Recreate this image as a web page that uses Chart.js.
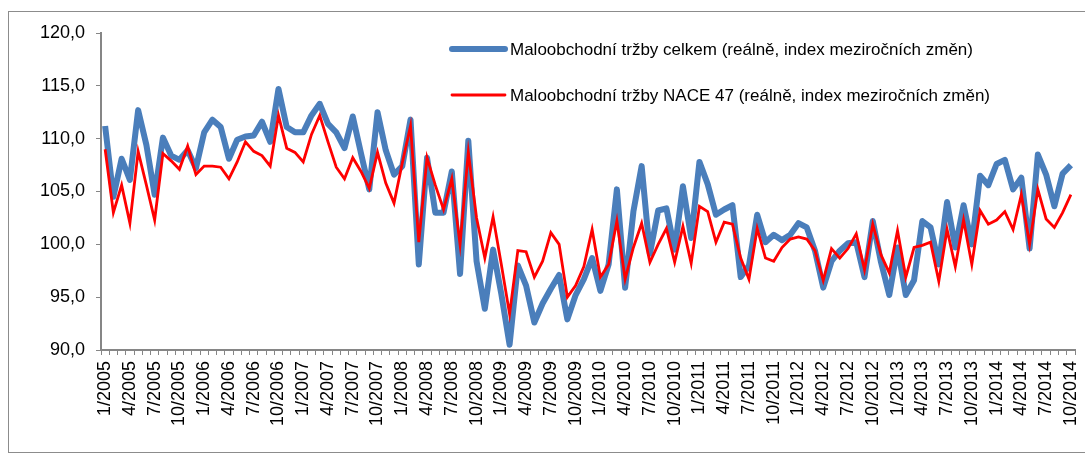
<!DOCTYPE html>
<html><head><meta charset="utf-8">
<script src="https://cdn.jsdelivr.net/npm/chart.js@4/dist/chart.umd.min.js"></script>
<style>html,body{margin:0;padding:0;background:#fff}#wrap{width:1085px;height:455px;position:relative}</style>
</head><body><div id="wrap"><canvas id="c" width="1085" height="455"></canvas></div>
<script>
const years = [2005, 2006, 2007, 2008, 2009, 2010, 2011, 2012, 2013, 2014];
const lastMonth = 10;
const categories = [];
years.forEach(y => { for (let m = 1; m <= 12; m++) { if (y === 2014 && m > lastMonth) break; categories.push(m + '/' + y); } });

const seriesCelkemLabel = 'Maloobchodní tržby celkem (reálně, index meziročních změn)';
const seriesNaceLabel = 'Maloobchodní tržby NACE 47 (reálně, index meziročních změn)';

const celkem = [
 111.2,104.5,108.1,106.1,112.7,109.4,104.7,110.1,108.4,108.0,108.9,107.2,
 110.6,111.8,111.1,108.1,109.9,110.2,110.3,111.6,109.7,114.7,111.1,110.6,
 110.6,112.2,113.3,111.4,110.6,109.1,112.1,108.6,105.2,112.5,108.9,106.6,
 107.4,111.8,98.1,108.2,103.0,103.0,106.9,97.2,109.8,98.4,93.9,99.5,
 95.3,90.5,98.0,96.1,92.6,94.4,95.8,97.1,92.9,95.2,96.7,98.7,
 95.6,98.1,105.2,95.9,103.1,107.4,99.1,103.2,103.4,99.5,105.5,100.6,
 107.8,105.7,102.8,103.3,103.7,96.9,98.0,102.8,100.2,100.9,100.4,100.9,
 102.0,101.6,99.4,95.9,98.4,99.4,100.1,100.2,96.9,102.2,98.3,95.2,
 99.7,95.2,96.6,102.2,101.6,98.1,104.0,99.7,103.7,100.0,106.5,105.6,
 107.6,108.0,105.2,106.3,99.6,108.5,106.6,103.6,106.7,107.5
];
const nace47 = [
 109.0,103.0,105.6,102.0,108.8,105.6,102.3,108.6,107.9,107.1,109.3,106.6,
 107.4,107.4,107.3,106.2,107.8,109.7,108.8,108.4,107.4,112.2,109.1,108.7,
 107.8,110.4,112.2,109.7,107.3,106.2,108.2,106.9,105.3,108.7,105.8,103.9,
 107.7,111.2,100.2,108.2,105.6,103.3,106.2,100.0,108.7,102.5,98.7,102.6,
 98.1,93.4,99.4,99.3,96.9,98.4,101.1,100.0,95.0,96.1,97.9,101.4,
 96.9,98.1,102.2,96.7,99.7,102.0,98.3,100.0,101.5,98.3,101.7,98.2,
 103.6,103.1,100.2,102.1,101.9,98.7,96.7,101.5,98.7,98.4,99.7,100.5,
 100.7,100.5,99.4,96.6,99.6,98.7,99.6,101.0,97.6,101.9,99.0,97.3,
 101.3,96.9,99.7,99.9,100.2,96.5,101.4,97.9,102.3,98.1,103.2,101.9,
 102.3,103.1,101.4,104.7,100.0,105.2,102.4,101.6,103.0,104.7
];
const yMin = 90, yMax = 120, yStep = 5;

const FONT = "'Liberation Sans', Arial, sans-serif";
const AXIS = '#868686';

const frame = {
  id: 'frame',
  beforeDraw(chart) {
    const ctx = chart.ctx;
    ctx.save();
    ctx.fillStyle = '#fff';
    ctx.fillRect(0, 0, chart.width, chart.height);
    ctx.strokeStyle = '#8c8c8c';
    ctx.lineWidth = 1;
    ctx.strokeRect(8.5, 11.5, 1090, 441);
    ctx.restore();
  }
};

const legendBox = {
  id: 'legendBox',
  afterDraw(chart) {
    const ctx = chart.ctx;
    ctx.save();
    const items = [
      { ds: chart.data.datasets[1], y: 49 },
      { ds: chart.data.datasets[0], y: 95 }
    ];
    ctx.font = '17px ' + FONT;
    ctx.textBaseline = 'middle';
    items.forEach(it => {
      ctx.strokeStyle = it.ds.borderColor;
      ctx.lineWidth = it.ds.borderWidth;
      ctx.lineCap = 'round';
      ctx.beginPath();
      ctx.moveTo(452, it.y);
      ctx.lineTo(505, it.y);
      ctx.stroke();
      ctx.fillStyle = '#000';
      ctx.fillText(it.ds.label, 510, it.y + 1);
    });
    ctx.restore();
  }
};

new Chart(document.getElementById('c'), {
  type: 'line',
  data: {
    labels: categories,
    datasets: [
      { label: seriesNaceLabel, data: nace47, borderColor: '#FF0000', borderWidth: 2.8, order: 0,
        pointRadius: 0, tension: 0, fill: false },
      { label: seriesCelkemLabel, data: celkem, borderColor: '#4A7EBB', borderWidth: 6, order: 1,
        pointRadius: 0, tension: 0, fill: false, borderJoinStyle: 'round' }
    ]
  },
  options: {
    responsive: false,
    animation: false,
    devicePixelRatio: 1,
    layout: { padding: { left: 0, top: 33, right: 10, bottom: 0 } },
    plugins: { legend: { display: false }, tooltip: { enabled: false } },
    scales: {
      x: {
        type: 'category',
        offset: true,
        grid: { display: true, drawOnChartArea: false, drawTicks: true, tickLength: 5, color: AXIS, offset: true, lineWidth: 1 },
        border: { display: true, color: AXIS, width: 2 },
        ticks: {
          autoSkip: false, maxRotation: 90, minRotation: 90, padding: 6,
          color: '#000', font: { family: FONT, size: 18 },
          callback: (v, i) => (i % 3 === 0 ? categories[i] : '')
        },
        afterFit: s => { s.height = 105; s.paddingLeft = 0; s.paddingRight = 0; }
      },
      y: {
        min: yMin, max: yMax,
        grid: { display: true, drawOnChartArea: false, drawTicks: true, tickLength: 5, color: AXIS },
        border: { display: true, color: AXIS, width: 2 },
        ticks: {
          stepSize: yStep, padding: 11, color: '#000', font: { family: FONT, size: 18 },
          callback: v => v.toFixed(1).replace('.', ',')
        },
        afterFit: s => { s.width = 101; }
      }
    }
  },
  plugins: [frame, legendBox]
});
</script></body></html>
